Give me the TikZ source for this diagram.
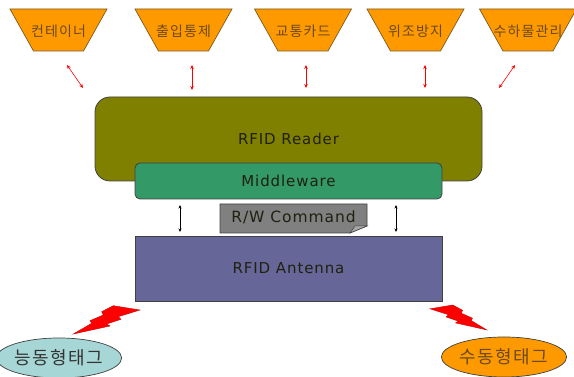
\documentclass[tikz,border=0pt]{standalone}
\usepackage{fontspec}
\setmainfont{DejaVu Sans}[LetterSpace=6]
\newfontfamily\kr{Noto Sans CJK KR}[LetterSpace=8]
\usetikzlibrary{arrows.meta,shapes.geometric}
\definecolor{trapfill}{HTML}{FF9900}
\definecolor{trapline}{HTML}{7A5A20}
\definecolor{traptext}{HTML}{6B4A1E}
\definecolor{readerfill}{HTML}{808000}
\definecolor{midfill}{HTML}{339966}
\definecolor{antfill}{HTML}{666699}
\definecolor{cmdfill}{HTML}{808080}
\definecolor{activefill}{HTML}{A6D6D6}
\definecolor{boltred}{HTML}{FF0000}
\definecolor{boltline}{HTML}{CC0000}
\definecolor{boxline}{HTML}{404040}
\definecolor{boxtext}{HTML}{202010}
\begin{document}
\begin{tikzpicture}[x=1pt,y=-1pt,
  traptxt/.style={font=\kr\fontsize{14}{16}\selectfont, text=traptext, inner sep=0pt},
  trapshape/.style={fill=trapfill, draw=trapline, line width=0.7pt},
  bigbox/.style={draw=boxline, line width=0.8pt, inner sep=0pt, font=\fontsize{15}{17}\selectfont, text=boxtext},
  redarr/.style={draw=red, line width=0.6pt, {Stealth[length=4pt,width=3.5pt]}-{Stealth[length=4pt,width=3.5pt]}},
  blkarr/.style={draw=black, line width=0.6pt, {Stealth[length=3.5pt,width=3pt]}-{Stealth[length=3.5pt,width=3pt]}},
  boltstyle/.style={fill=boltred, draw=boltline, line width=0.4pt, line join=miter},
  tagnode/.style={ellipse, draw=boxline, line width=0.7pt, inner sep=0pt, font=\kr\fontsize{18}{20}\selectfont}
]
\useasboundingbox (0,0) rectangle (574,377);

% trapezoids
\foreach \cx/\nm/\txt in {58.5/t1/컨테이너, 183.5/t2/출입통제, 303/t3/교통카드, 415.5/t4/위조방지, 528/t5/수하물관리}{
  \draw[trapshape] (\cx-48.5,9) -- (\cx+48.5,9) -- (\cx+25,51) -- (\cx-25,51) -- cycle;
  \node[traptxt] (\nm) at (\cx,31) {\txt};
}

% red arrows
\coordinate (r1a) at (67,65);  \coordinate (r1b) at (83,88);
\coordinate (r2a) at (192,65); \coordinate (r2b) at (192,90);
\coordinate (r3a) at (306,65); \coordinate (r3b) at (306,88);
\coordinate (r4a) at (425,65); \coordinate (r4b) at (425,88);
\coordinate (r5a) at (515,65); \coordinate (r5b) at (499,88);
\foreach \i in {1,...,5}{ \draw[redarr] (r\i a) -- (r\i b); }

% reader and middleware
\node[bigbox, fill=readerfill, rounded corners=15pt, minimum width=387pt, minimum height=84pt] (reader) at (288.5,139) {\raisebox{-1.5pt}{RFID Reader}};
\node[bigbox, fill=midfill, rounded corners=5pt, minimum width=307pt, minimum height=36pt] (middle) at (288.5,181) {Middleware};

% R/W command
\draw[fill=cmdfill, draw=boxline, line width=0.7pt] (220,204) -- (367,204) -- (367,226) -- (350,233) -- (220,233) -- cycle;
\draw[fill=cmdfill!70!white, draw=boxline, line width=0.5pt] (350,233) -- (355,226) -- (367,226) -- cycle;
\node[font=\fontsize{15.5}{17}\selectfont, text=boxtext, inner sep=0pt] (cmd) at (293.5,217.5) {R/W Command};

% black arrows
\coordinate (b1a) at (180,205); \coordinate (b1b) at (180,232);
\coordinate (b2a) at (396,205); \coordinate (b2b) at (396,232);
\draw[blkarr] (b1a) -- (b1b);
\draw[blkarr] (b2a) -- (b2b);

% antenna
\node[bigbox, fill=antfill, minimum width=307pt, minimum height=65pt] (antenna) at (288.5,268.5) {\raisebox{-2pt}{RFID Antenna}};

% bolts
\draw[boltstyle] (73.3,334) -- (91.7,323.3) -- (90,320.7) -- (103.3,315) -- (101.7,311.7) -- (113.3,305.7) -- (140,310) -- (118.3,316.7) -- (121,319.3) -- (106.7,324) -- (110,326) -- cycle;
\draw[boltstyle] (486.7,329.9) -- (471.1,320.5) -- (472.5,318.2) -- (461.2,313.2) -- (462.6,310.3) -- (452.7,305) -- (430,308.8) -- (448.4,314.7) -- (446.2,317) -- (458.3,321.1) -- (455.5,322.9) -- cycle;

% tags
\node[tagnode, fill=activefill, minimum width=108pt, minimum height=40pt, text=black!80] (active) at (59,358) {능동형태그};
\node[tagnode, fill=trapfill, minimum width=114pt, minimum height=40pt, text=traptext] (passive) at (504,357) {수동형태그};
\end{tikzpicture}
\end{document}
